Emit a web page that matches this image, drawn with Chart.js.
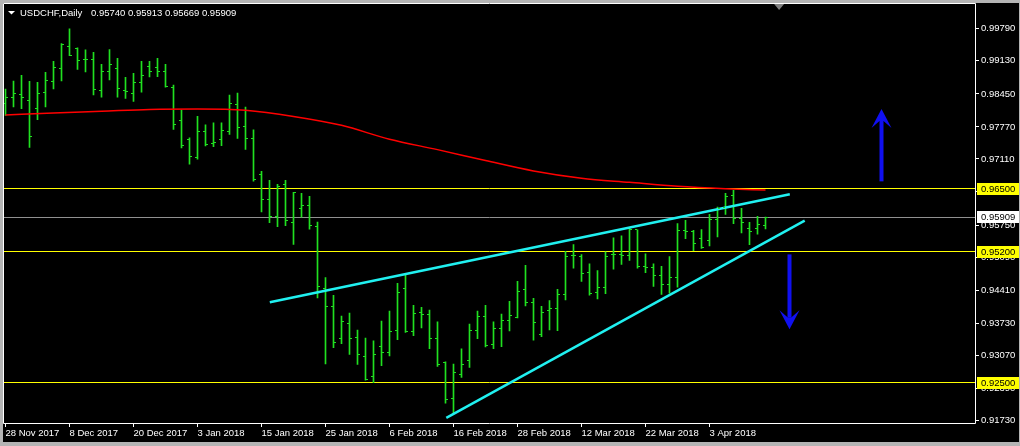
<!DOCTYPE html>
<html lang="en">
<head>
<meta charset="UTF-8">
<title>USDCHF,Daily</title>
<script src="https://cdn.jsdelivr.net/npm/chart.js"></script>
<style>
  body { margin: 0; padding: 0; background: #b4b4b4; overflow: hidden; }
  #wrap { position: relative; width: 1020px; height: 446px; }
</style>
</head>
<body>
<div id="wrap"><canvas id="chartContainer"></canvas></div>
<script>
const symbolName = 'USDCHF';
const timeframe = 'Daily';

// x axis labels, every 8th bar
const dateLabels = ['28 Nov 2017', '8 Dec 2017', '20 Dec 2017', '3 Jan 2018', '15 Jan 2018', '25 Jan 2018',
  '6 Feb 2018', '16 Feb 2018', '28 Feb 2018', '12 Mar 2018', '22 Mar 2018', '3 Apr 2018'];
const dateTickIndex = [0, 8, 16, 24, 32, 40, 48, 56, 64, 72, 80, 88];

const yTicks = [0.99790, 0.99130, 0.98450, 0.97770, 0.97110, 0.96430, 0.95750, 0.95090,
  0.94410, 0.93730, 0.93070, 0.92390, 0.91730];

// daily bars, 28 Nov 2017 .. 12 Apr 2018
const opens = [0.98261, 0.98378, 0.98439, 0.98322, 0.98159, 0.98471, 0.98710, 0.98969, 0.99418, 0.99378,
  0.99150, 0.99153, 0.98520, 0.98914, 0.98969, 0.98527, 0.98459, 0.98684, 0.99010, 0.99002,
  0.98920, 0.98582, 0.97894, 0.97506, 0.97145, 0.97684, 0.97425, 0.97512, 0.97676, 0.98235,
  0.97786, 0.97541, 0.96786, 0.96276, 0.95920, 0.96582, 0.95806, 0.96092, 0.96153, 0.95725,
  0.94451, 0.94071, 0.93418, 0.93724, 0.93439, 0.93051, 0.92629, 0.93255, 0.93118, 0.93582,
  0.94451, 0.93567, 0.93955, 0.93908, 0.93418, 0.92914, 0.92173, 0.92669, 0.92961, 0.93582,
  0.93873, 0.93282, 0.93622, 0.93778, 0.93853, 0.94424, 0.94159, 0.93500, 0.93982, 0.94031,
  0.94316, 0.95118, 0.95112, 0.94765, 0.94363, 0.94471, 0.95139, 0.95139, 0.95125, 0.95663,
  0.94900, 0.94874, 0.94704, 0.94533, 0.94663, 0.95629, 0.95622, 0.95480, 0.95425, 0.95859,
  0.96112, 0.96357, 0.95880, 0.95669, 0.95676, 0.95740];
const highs = [0.98547, 0.98716, 0.98833, 0.98710, 0.98690, 0.98894, 0.99118, 0.99486, 0.99792, 0.99398,
  0.99357, 0.99308, 0.99057, 0.99363, 0.99180, 0.98792, 0.98873, 0.99118, 0.99118, 0.99180,
  0.99057, 0.98629, 0.98118, 0.97547, 0.97990, 0.97812, 0.97853, 0.97853, 0.98425, 0.98465,
  0.98180, 0.97710, 0.96853, 0.96669, 0.96588, 0.96669, 0.96424, 0.96404, 0.96343, 0.95812,
  0.94669, 0.94302, 0.93873, 0.93935, 0.93588, 0.93424, 0.93363, 0.93771, 0.93976, 0.94547,
  0.94731, 0.94098, 0.94057, 0.93996, 0.93757, 0.92935, 0.92888, 0.93200, 0.93710, 0.93976,
  0.94098, 0.93757, 0.93914, 0.94180, 0.94588, 0.94920, 0.94241, 0.94078, 0.94194, 0.94425,
  0.95206, 0.95349, 0.95139, 0.94949, 0.94812, 0.95200, 0.95486, 0.95527, 0.95690, 0.95649,
  0.95159, 0.94949, 0.94900, 0.95098, 0.95777, 0.95847, 0.95643, 0.95655, 0.95969, 0.96118,
  0.96404, 0.96465, 0.96092, 0.95806, 0.95929, 0.95913];
const lows = [0.98006, 0.98180, 0.98145, 0.97349, 0.97920, 0.98180, 0.98553, 0.98716, 0.99235, 0.98955,
  0.98900, 0.98431, 0.98384, 0.98737, 0.98384, 0.98357, 0.98296, 0.98486, 0.98798, 0.98806,
  0.98588, 0.97716, 0.97337, 0.97002, 0.97104, 0.97378, 0.97363, 0.97384, 0.97614, 0.97533,
  0.97308, 0.96655, 0.96022, 0.95798, 0.95716, 0.95737, 0.95349, 0.95914, 0.95663, 0.94247,
  0.92888, 0.93227, 0.93308, 0.93084, 0.92880, 0.92553, 0.92506, 0.92853, 0.93057, 0.93390,
  0.93541, 0.93471, 0.93629, 0.93206, 0.92839, 0.92084, 0.91880, 0.92614, 0.92818, 0.93410,
  0.93241, 0.93206, 0.93247, 0.93567, 0.93839, 0.94084, 0.93378, 0.93451, 0.93588, 0.93573,
  0.94206, 0.94859, 0.94588, 0.94308, 0.94226, 0.94337, 0.94839, 0.94941, 0.95022, 0.94859,
  0.94771, 0.94486, 0.94322, 0.94349, 0.94471, 0.95471, 0.95220, 0.95267, 0.95322, 0.95506,
  0.95969, 0.95777, 0.95588, 0.95343, 0.95561, 0.95669];
const closes = [0.98373, 0.98459, 0.98378, 0.97582, 0.98459, 0.98725, 0.98990, 0.99465, 0.99235, 0.99133,
  0.99153, 0.98541, 0.98904, 0.99063, 0.98561, 0.98492, 0.98684, 0.98827, 0.98908, 0.98920,
  0.98602, 0.97827, 0.97390, 0.97153, 0.97684, 0.97410, 0.97439, 0.97704, 0.98247, 0.97765,
  0.97541, 0.96696, 0.96276, 0.95929, 0.96541, 0.95853, 0.96424, 0.96153, 0.95745, 0.94480,
  0.94071, 0.93337, 0.93771, 0.93418, 0.93092, 0.92573, 0.93092, 0.93133, 0.93567, 0.94369,
  0.93561, 0.93935, 0.93914, 0.93418, 0.92873, 0.92165, 0.92716, 0.92888, 0.93582, 0.93867,
  0.93267, 0.93614, 0.93786, 0.93880, 0.94384, 0.94159, 0.93751, 0.93949, 0.94037, 0.94329,
  0.95112, 0.95120, 0.94745, 0.94349, 0.94471, 0.95112, 0.95153, 0.95118, 0.95663, 0.94894,
  0.94874, 0.94704, 0.94527, 0.94663, 0.95643, 0.95625, 0.95378, 0.95296, 0.95867, 0.96092,
  0.96337, 0.95888, 0.95812, 0.95614, 0.95765, 0.95909];

// moving average (red), read at these bar positions
const maIndex = [0, 6, 12, 18, 24, 30, 36, 42, 48, 54, 60, 66, 72, 78, 84, 90, 95];
const maValues = [0.98016, 0.98057, 0.98092, 0.98129, 0.98139, 0.98112, 0.97986, 0.97802, 0.97516,
  0.97302, 0.97078, 0.96863, 0.96714, 0.96629, 0.96547, 0.96496, 0.96469];

const levelPrices = [0.96500, 0.95200, 0.92500];
const bidPrice = 0.95909;

const upperTrendX = [33.04, 98.04];
const upperTrendY = [0.94159, 0.96384];
const lowerTrendX = [55.1, 99.9];
const lowerTrendY = [0.91778, 0.95839];

// blue arrows: bar position, tail price, tip price
const arrowX = [109.5, 98.0];
const arrowFrom = [0.96649, 0.95145];
const arrowTo = [0.98139, 0.93602];

const xMin = -0.1875, xMax = 121.1875;
const yMin = 0.916735, yMax = 1.002245;

const barColor = '#20e020';
const font = '9.5px "Liberation Sans", Arial, sans-serif';

const ranges = opens.map((o, i) => ({ x: i, y: [lows[i], highs[i]] }));

const datasets = [
  {
    type: 'line', order: 0,
    data: upperTrendX.map((x, i) => ({ x: x, y: upperTrendY[i] })),
    borderColor: '#20f0f0', borderWidth: 2.5, pointRadius: 0
  },
  {
    type: 'line', order: 0,
    data: lowerTrendX.map((x, i) => ({ x: x, y: lowerTrendY[i] })),
    borderColor: '#20f0f0', borderWidth: 2.5, pointRadius: 0
  },
  {
    type: 'line', order: 1,
    data: maIndex.map((x, i) => ({ x: x, y: maValues[i] })),
    borderColor: '#ff0000', borderWidth: 1.5, pointRadius: 0, cubicInterpolationMode: 'monotone'
  },
  {
    type: 'bar', order: 3,
    data: ranges,
    backgroundColor: barColor, borderWidth: 0, barThickness: 1
  }
];

function drawArrow(c, x, yFrom, yTo) {
  const dir = yTo > yFrom ? 1 : -1;
  const hy = yTo - dir * 19;
  c.fillRect(x - 2, Math.min(yFrom, hy + dir * 7), 4, Math.abs(hy + dir * 7 - yFrom));
  c.beginPath();
  c.moveTo(x, yTo);
  c.lineTo(x - 10, hy);
  c.lineTo(x - 2, hy + dir * 7);
  c.lineTo(x + 2, hy + dir * 7);
  c.lineTo(x + 10, hy);
  c.closePath();
  c.fill();
}

const mtPlugin = {
  id: 'mt',
  beforeDraw(chart) {
    const c = chart.ctx;
    c.save();
    c.fillStyle = '#b4b4b4';
    c.fillRect(0, 0, chart.width, chart.height);
    c.fillStyle = '#000';
    c.fillRect(3, 3, 1016, 439);
    c.restore();
  },
  beforeDatasetsDraw(chart) {
    // horizontal price levels, snapped to whole pixels
    const c = chart.ctx, ys = chart.scales.y, a = chart.chartArea;
    c.save();
    c.lineWidth = 1;
    const hline = (p, col) => {
      const y = Math.floor(ys.getPixelForValue(p)) + 0.5;
      c.strokeStyle = col;
      c.beginPath();
      c.moveTo(a.left, y);
      c.lineTo(a.right, y);
      c.stroke();
    };
    hline(bidPrice, '#909090');
    levelPrices.forEach(p => hline(p, '#ffff00'));
    c.restore();
  },
  afterDatasetsDraw(chart) {
    const c = chart.ctx, xs = chart.scales.x, ys = chart.scales.y;
    c.save();
    c.fillStyle = barColor;
    for (let i = 0; i < opens.length; i++) {
      const px = Math.floor(xs.getPixelForValue(i));
      c.fillRect(px - 2, Math.floor(ys.getPixelForValue(opens[i])), 2, 1);
      c.fillRect(px + 1, Math.floor(ys.getPixelForValue(closes[i])), 2, 1);
    }
    c.fillStyle = '#1010f0';
    arrowX.forEach((x, i) => {
      drawArrow(c, Math.floor(xs.getPixelForValue(x)) + 0.5,
        ys.getPixelForValue(arrowFrom[i]), ys.getPixelForValue(arrowTo[i]));
    });
    c.restore();
  },
  afterDraw(chart) {
    const c = chart.ctx, xs = chart.scales.x, ys = chart.scales.y;
    const a = chart.chartArea;
    c.save();
    // frame
    c.strokeStyle = '#ffffff';
    c.lineWidth = 1;
    c.beginPath();
    c.moveTo(3.5, a.bottom + 0.5);
    c.lineTo(3.5, 3.5);
    c.lineTo(a.right + 0.5, 3.5);
    c.lineTo(a.right + 0.5, a.bottom + 0.5);
    c.lineTo(3.5, a.bottom + 0.5);
    c.stroke();

    // price boxes on the right axis
    c.font = font;
    c.textBaseline = 'middle';
    const box = (p, bg) => {
      const y = ys.getPixelForValue(p);
      c.fillStyle = bg;
      c.fillRect(977, Math.round(y) - 6, 42, 12);
      c.fillStyle = '#000';
      c.fillText(p.toFixed(5), 981, y + 0.5);
    };
    levelPrices.forEach(p => box(p, '#ffff00'));
    box(bidPrice, '#ffffff');

    // header
    const last = opens.length - 1;
    c.fillStyle = '#ffffff';
    c.beginPath();
    c.moveTo(8, 11); c.lineTo(15, 11); c.lineTo(11.5, 14.5); c.closePath(); c.fill();
    c.fillText(symbolName + ',' + timeframe, 20, 13);
    c.fillText([opens[last], highs[last], lows[last], closes[last]].map(v => v.toFixed(5)).join(' '), 91, 13);

    // chart shift marker
    const sx = xs.getPixelForValue(96.7);
    c.fillStyle = '#808080';
    c.beginPath();
    c.moveTo(sx - 5, 4); c.lineTo(sx + 5, 4); c.lineTo(sx, 10); c.closePath(); c.fill();
    c.restore();
  }
};

new Chart(document.getElementById('chartContainer'), {
  type: 'bar',
  data: { datasets: datasets },
  options: {
    responsive: true,
    maintainAspectRatio: false,
    animation: false,
    layout: { padding: { left: 4, top: 4, right: 0, bottom: 0 } },
    plugins: { legend: { display: false }, tooltip: { enabled: false } },
    scales: {
      x: {
        type: 'linear', min: xMin, max: xMax, offset: false, bounds: 'data',
        afterBuildTicks: s => { s.ticks = dateTickIndex.map(v => ({ value: v })); },
        afterFit: s => { s.height = 23; },
        grid: { drawOnChartArea: false, drawTicks: true, tickLength: 4, color: '#ffffff', offset: false },
        border: { display: false },
        ticks: {
          autoSkip: false, maxRotation: 0, align: 'start', padding: 1,
          color: '#ffffff', font: { family: '"Liberation Sans", Arial, sans-serif', size: 9.5 },
          callback: (v, i) => dateLabels[i]
        }
      },
      y: {
        type: 'linear', position: 'right', min: yMin, max: yMax, bounds: 'data',
        afterBuildTicks: s => { s.ticks = yTicks.map(v => ({ value: v })); },
        afterFit: s => { s.width = 45; },
        grid: { drawOnChartArea: false, drawTicks: true, tickLength: 4, color: '#ffffff' },
        border: { display: false },
        ticks: {
          autoSkip: false, padding: 2,
          color: '#ffffff', font: { family: '"Liberation Sans", Arial, sans-serif', size: 9.5 },
          callback: v => v.toFixed(5)
        }
      }
    }
  },
  plugins: [mtPlugin]
});
</script>
</body>
</html>
